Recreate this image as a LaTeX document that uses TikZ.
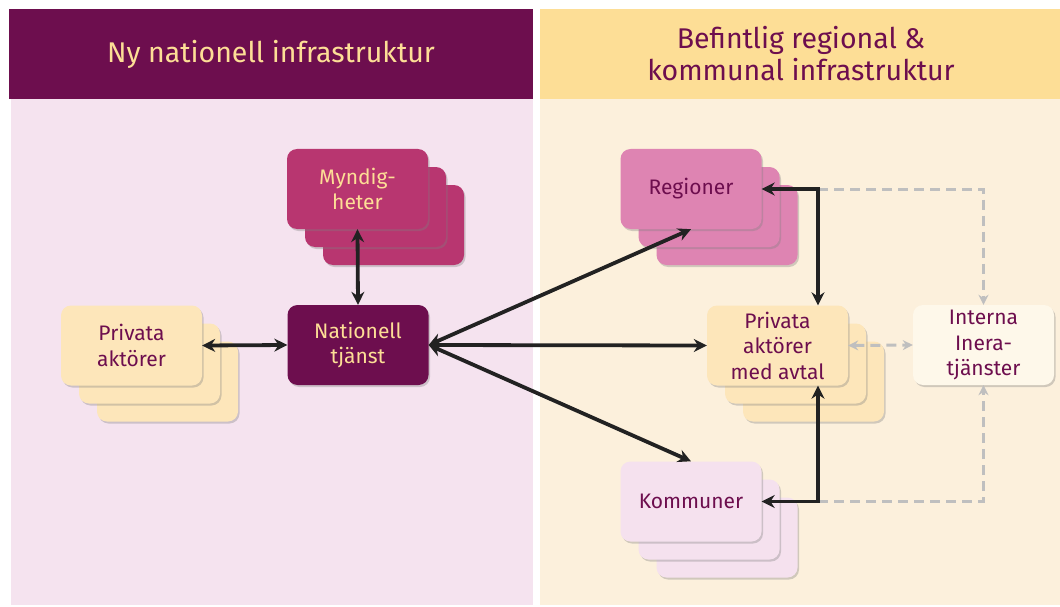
\documentclass[tikz,border=0pt]{standalone}
\usepackage{fontspec}
\setmainfont{Fira Sans}
\usetikzlibrary{arrows.meta,shadows}
\definecolor{plum}{HTML}{6D0E4E}
\definecolor{sand}{HTML}{FDDE96}
\definecolor{pinkbg}{HTML}{F5E3EF}
\definecolor{creambg}{HTML}{FCF0DC}
\definecolor{mynd}{HTML}{B83670}
\definecolor{regc}{HTML}{DE84B2}
\definecolor{privc}{HTML}{FDE6BA}
\definecolor{kommc}{HTML}{F5E1EE}
\definecolor{intc}{HTML}{FEF8EA}
\definecolor{greyline}{HTML}{BFBFBF}
\definecolor{darkline}{HTML}{222222}
\tikzset{
  card/.style={rounded corners=10pt, minimum width=141pt, minimum height=80pt, inner sep=0pt,
    align=center, font=\fontsize{21}{25.5}\selectfont,
    drop shadow={shadow xshift=1.5pt, shadow yshift=-2pt, opacity=0.35}},
  header/.style={inner sep=0pt, align=center, font=\fontsize{28.5}{32}\selectfont},
  link/.style={line width=3.8pt, draw=darkline, {Stealth[length=13pt,width=13pt]}-{Stealth[length=13pt,width=13pt]}},
  dlink/.style={line width=3pt, draw=greyline, dash pattern=on 10pt off 6pt, -{Stealth[length=10pt,width=10pt]}},
  dlink2/.style={line width=3pt, draw=greyline, dash pattern=on 10pt off 6pt, {Stealth[length=10pt,width=10pt]}-{Stealth[length=10pt,width=10pt]}},
}
\begin{document}
\begin{tikzpicture}[x=1pt,y=-1pt]
\useasboundingbox (0,0) rectangle (1060,607);
\fill[white] (0,0) rectangle (1060,607);
% panels
\fill[pinkbg] (11,99) rectangle (533,605);
\fill[plum] (9,9) rectangle (533,99);
\fill[creambg] (540,99) rectangle (1060,605);
\fill[sand] (540,9) rectangle (1060,99);
\node[header, text=sand] (hl) at (271,54) {Ny nationell infrastruktur};
\node[header, text=plum] (hr) at (801,54) {Befintlig regional \&\\kommunal infrastruktur};
% stacks
\foreach \dx in {36,18} {
  \node[card, fill=mynd] at (357.5+\dx,189+\dx) {};
  \node[card, fill=privc] at (131.5+\dx,345.5+\dx) {};
  \node[card, fill=regc] at (691+\dx,189+\dx) {};
  \node[card, fill=privc] at (777.5+\dx,345.5+\dx) {};
  \node[card, fill=kommc] at (691+\dx,501.5+\dx) {};
}
\node[card, fill=mynd, text=sand] (myn) at (357.5,189) {Myndig-\\heter};
\node[card, fill=plum, text=sand] (nat) at (358,345) {Nationell\\tjänst};
\node[card, fill=privc, text=plum] (pa) at (131.5,345.5) {Privata\\aktörer};
\node[card, fill=regc, text=plum] (reg) at (691,189) {Regioner};
\node[card, fill=privc, text=plum] (pma) at (777.5,345.5) {Privata\\aktörer\\med avtal};
\node[card, fill=intc, text=plum] (int) at (983.5,345) {Interna\\Inera-\\tjänster};
\node[card, fill=kommc, text=plum] (kom) at (691,501.5) {Kommuner};
% dashed
\coordinate (ct) at ([xshift=40.5pt]pma.north |- reg.east);
\coordinate (cb) at ([xshift=40.5pt]pma.south |- kom.east);
\draw[dlink] (ct) -| (int.north);
\draw[dlink] (cb) -| (int.south);
\draw[dlink2] (pma.east) -- (int.west);
% solid
\draw[link] (pa.east) -- (nat.west);
\draw[link] (myn.south) -- (nat.north);
\draw[link] (nat.east) -- (reg.south);
\draw[link] (nat.east) -- (pma.west);
\draw[link] (nat.east) -- (kom.north);
\draw[link] (reg.east) -| ([xshift=40.5pt]pma.north);
\draw[link] (kom.east) -| ([xshift=40.5pt]pma.south);
\end{tikzpicture}
\end{document}
